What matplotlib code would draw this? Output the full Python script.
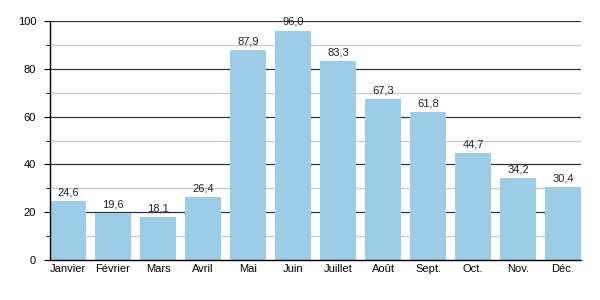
import numpy as np
import matplotlib
matplotlib.use("Agg")
import matplotlib.pyplot as plt

plt.rcParams['font.family'] = ['Liberation Sans', 'DejaVu Sans']

mois = ['Janvier', 'Février', 'Mars', 'Avril', 'Mai', 'Juin', 'Juillet',
        'Août', 'Sept.', 'Oct.', 'Nov.', 'Déc.']
valeurs = [24.6, 19.6, 18.1, 26.4, 87.9, 96.0, 83.3, 67.3, 61.8, 44.7, 34.2, 30.4]

fig = plt.figure(figsize=(6, 3), dpi=100)
ax = fig.add_axes([50/600, 40/300, 531/600, 239/300])

x = np.arange(len(mois))
ax.bar(x, valeurs, width=0.8, color='#9dcde6', zorder=2)

# grille : traits foncés tous les 20, gris clair tous les 10
for y in range(10, 100, 20):
    ax.axhline(y, color='#c8c8c8', lw=0.9, zorder=1)
for y in range(20, 101, 20):
    ax.axhline(y, color='#333333', lw=0.9, zorder=1)

for xi, v in zip(x, valeurs):
    ax.text(xi, v + 1.5, ('%.1f' % v).replace('.', ','), ha='center', va='bottom',
            fontsize=8, color='#222222', zorder=3)

ax.set_xlim(-0.4, 11.4)
ax.set_ylim(0, 100)
ax.set_xticks(x)
ax.set_xticklabels(mois)
ax.set_yticks(range(0, 101, 20))
ax.set_yticks(range(10, 100, 20), minor=True)
ax.tick_params(axis='x', length=0, labelsize=8, pad=3)
ax.tick_params(axis='y', which='major', length=4, labelsize=8, pad=6)
ax.tick_params(axis='y', which='minor', length=3)

for s in ['top', 'right']:
    ax.spines[s].set_visible(False)
ax.spines['left'].set_linewidth(1.0)
ax.spines['bottom'].set_linewidth(1.0)
ax.spines['left'].set_zorder(4)
ax.spines['bottom'].set_zorder(4)

fig.savefig('out.png', dpi=100)
